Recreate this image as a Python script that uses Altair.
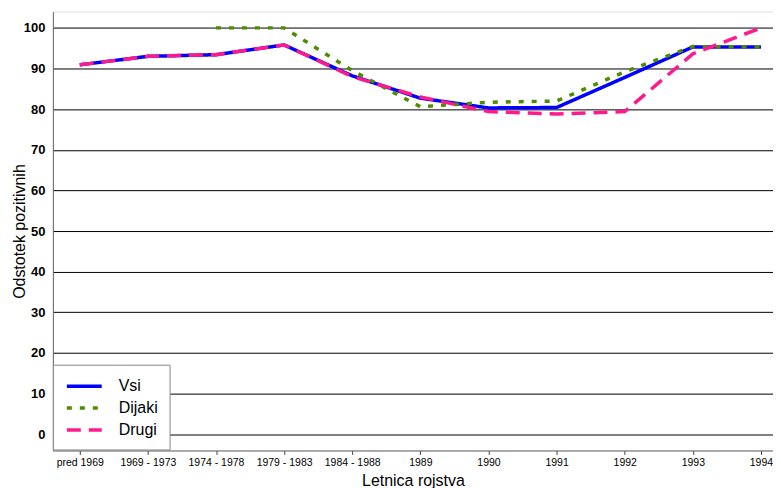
import altair as alt
import pandas as pd

categories = ["pred 1969", "1969 - 1973", "1974 - 1978", "1979 - 1983", "1984 - 1988",
              "1989", "1990", "1991", "1992", "1993", "1994"]
vsi = [90.9, 93.0, 93.4, 95.8, 88.2, 82.7, 80.3, 80.4, 87.8, 95.3, 95.3]
dijaki = [None, None, 100.0, 100.0, 89.5, 80.6, 81.7, 82.0, 89.2, 95.4, 95.3]
drugi = [90.9, 93.0, 93.4, 95.8, 88.0, 83.0, 79.4, 78.8, 79.4, 93.6, 100.0]

series_names = ["Vsi", "Dijaki", "Drugi"]
series_colors = ["#0000FF", "#4C8C00", "#FF1A8C"]
series_dash = [[1, 0], [5, 8], [14, 8]]

rows = []
for name, vals in zip(series_names, [vsi, dijaki, drugi]):
    for c, v in zip(categories, vals):
        rows.append({"cat": c, "series": name, "value": v, "order": series_names.index(name)})
df = pd.DataFrame(rows)

font = "Liberation Sans"

chart = alt.Chart(df).mark_line(strokeWidth=3.5, strokeCap="butt").encode(
    x=alt.X("cat:N", sort=categories, title="Letnica rojstva",
            scale=alt.Scale(type="point", padding=0.2855, align=0.69),
            axis=alt.Axis(labelAngle=0, labelFontSize=10.5, labelFont=font, labelColor="black",
                          titleFont=font, titleFontSize=16, titleFontWeight="normal", titleColor="black",
                          tickSize=4, tickColor="#444", domainColor="#666", labelPadding=3,
                          titlePadding=5, grid=False)),
    y=alt.Y("value:Q", title="Odstotek pozitivnih",
            scale=alt.Scale(domain=[-4, 104], nice=False, zero=False),
            axis=alt.Axis(values=list(range(0, 101, 10)), labelFontSize=13, labelFontWeight="bold",
                          labelFont=font, labelColor="black", titleFont=font, titleFontSize=16,
                          titleFontWeight="normal", titleColor="black", ticks=False, labelPadding=8,
                          titlePadding=-4, gridColor="black", gridWidth=1, gridOpacity=1,
                          domainColor="#666")),
    color=alt.Color("series:N", scale=alt.Scale(domain=series_names, range=series_colors),
                    legend=alt.Legend(title=None, orient="none", legendX=0, legendY=354,
                                      fillColor="white", strokeColor="#888", padding=11,
                                      labelFontSize=16, labelFont=font, labelColor="black",
                                      symbolType="M-2,0H2", symbolSize=306, symbolStrokeWidth=3.5,
                                      labelOffset=24, rowPadding=3, symbolOffset=10)),
    strokeDash=alt.StrokeDash("series:N", scale=alt.Scale(domain=series_names, range=series_dash),
                              legend=None),
    order=alt.Order("order:Q"),
).properties(width=722, height=440, padding={"left": 3, "top": 3, "right": 0, "bottom": 0}).configure_view(
    stroke="#888", strokeWidth=1
).configure(background="white")

chart.save("out.html", embed_options={"renderer": "svg", "actions": False})
